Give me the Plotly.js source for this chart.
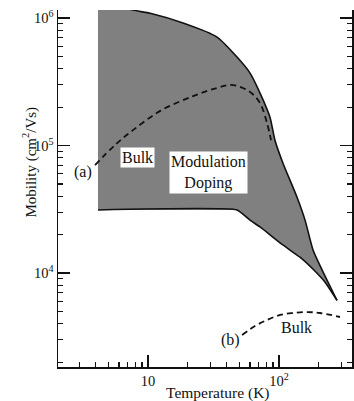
<!DOCTYPE html>
<html>
<head>
<meta charset="utf-8">
<script src="https://cdn.plot.ly/plotly-3.0.1.min.js"></script>
<style>html,body{margin:0;padding:0;background:#fff;}#chart{width:354px;height:401px;}</style>
</head>
<body>
<div id="chart"></div>
<script>
// Modulation-doping region: upper boundary (left to right) and lower boundary (left to right)
var upperT  = [4.15, 7.3, 10.4, 18.5, 33.6, 47.8, 60.1, 71.6, 85.3, 93.1, 107, 137, 158, 182, 213, 277];
var upperMu = [1.6e6, 1.17e6, 1.09e6, 9.14e5, 7.09e5, 4.94e5, 3.7e5, 2.58e5, 1.67e5, 1.10e5, 7.3e4, 3.95e4, 2.6e4, 1.51e4, 1.06e4, 6.1e3];
var lowerT  = [4.15, 47.8, 60.1, 71.6, 107, 144.5, 182, 224, 277];
var lowerMu = [3.12e4, 3.12e4, 2.6e4, 2.3e4, 1.66e4, 1.33e4, 1.07e4, 8.5e3, 6.1e3];
// Bulk curve (a)
var bulkAT  = [3.94, 5.6, 7.68, 12.4, 22.1, 33.6, 44.6, 60.1, 71.6, 81, 86.9];
var bulkAMu = [7.03e4, 1.01e5, 1.32e5, 1.87e5, 2.44e5, 2.83e5, 2.98e5, 2.63e5, 2.15e5, 1.5e5, 1.1e5];
// Bulk curve (b)
var bulkBT  = [52.3, 65.6, 81, 102, 128, 164, 206, 292];
var bulkBMu = [3.27e3, 3.84e3, 4.28e3, 4.69e3, 4.86e3, 4.94e3, 4.86e3, 4.52e3];
// Tick values and labels
var yTickVals = [1e4, 1e5, 1e6];
var yTickText = ['10<sup>4</sup>', '10<sup>5</sup>', '10<sup>6</sup>'];
var xTickVals = [10, 100];
var xTickText = ['10', '10<sup>2</sup>'];
var minorDigits = [2, 3, 4, 5, 6, 7, 8, 9];

function minorVals(decades) {
  var out = [];
  decades.forEach(function (d) { minorDigits.forEach(function (k) { out.push(k * d); }); });
  return out;
}

var polyT = upperT.concat(lowerT.slice().reverse());
var polyMu = upperMu.concat(lowerMu.slice().reverse());

var serif = 'Liberation Serif, Times New Roman, serif';

var traces = [
  {x: polyT, y: polyMu, mode: 'lines', fill: 'toself', fillcolor: '#808080',
   line: {width: 0, color: 'rgba(0,0,0,0)'}, hoverinfo: 'skip'},
  {x: upperT, y: upperMu, mode: 'lines', line: {color: '#111', width: 1.6, shape: 'spline', smoothing: 0.6}},
  {x: lowerT, y: lowerMu, mode: 'lines', line: {color: '#111', width: 1.6, shape: 'spline', smoothing: 0.4}},
  {x: bulkAT, y: bulkAMu, mode: 'lines', line: {color: '#111', width: 1.8, dash: '6px,4px', shape: 'spline'}},
  {x: bulkBT, y: bulkBMu, mode: 'lines', line: {color: '#111', width: 1.8, dash: '6px,4px', shape: 'spline'}}
];

var layout = {
  width: 354, height: 401,
  margin: {l: 58, r: 2, t: 10, b: 34},
  paper_bgcolor: '#fff', plot_bgcolor: '#fff',
  showlegend: false,
  font: {family: serif, color: '#111', size: 15},
  xaxis: {
    type: 'log', range: [0.313, 2.557],
    showgrid: false, zeroline: false,
    showline: true, linecolor: '#111', linewidth: 1.5, mirror: false,
    ticks: 'inside', ticklen: 12, tickwidth: 1.3, tickcolor: '#111',
    tickmode: 'array', tickvals: xTickVals, ticktext: xTickText,
    tickfont: {family: serif, size: 14.5, color: '#111'},
    minor: {ticks: 'inside', ticklen: 5, tickwidth: 1.2, tickcolor: '#111',
            tickmode: 'array', tickvals: minorVals([1, 10, 100]), showgrid: false}
  },
  yaxis: {
    type: 'log', range: [3.263, 6.063],
    showgrid: false, zeroline: false,
    showline: true, linecolor: '#111', linewidth: 1.5, mirror: 'ticks',
    ticks: 'inside', ticklen: 12, tickwidth: 1.3, tickcolor: '#111',
    tickmode: 'array', tickvals: yTickVals, ticktext: yTickText,
    tickfont: {family: serif, size: 14.5, color: '#111'},
    minor: {ticks: 'inside', ticklen: 5, tickwidth: 1.2, tickcolor: '#111',
            tickmode: 'array', tickvals: minorVals([1e3, 1e4, 1e5]), showgrid: false}
  },
  annotations: [
    {xref: 'paper', yref: 'paper', x: -0.136, y: 0.574, text: 'Mobility (cm<sup>2</sup>/Vs)',
     textangle: -90, showarrow: false, font: {family: serif, size: 15, color: '#111'}},
    {xref: 'paper', yref: 'paper', x: 0.541, y: -0.072, yanchor: 'middle', text: 'Temperature (K)',
     showarrow: false, font: {family: serif, size: 15.5, color: '#111'}},
    {x: 0.916, y: 4.91, text: 'Bulk', showarrow: false, bgcolor: '#fff',
     borderpad: 1, font: {family: serif, size: 16, color: '#111'}},
    {x: 1.458, y: 4.792, text: 'Modulation<br>Doping', showarrow: false, bgcolor: '#fff',
     borderpad: 1, font: {family: serif, size: 16, color: '#111'}},
    {x: 0.504, y: 4.792, text: '(a)', showarrow: false,
     font: {family: serif, size: 16, color: '#111'}},
    {x: 1.626, y: 3.475, text: '(b)', showarrow: false,
     font: {family: serif, size: 16, color: '#111'}},
    {x: 2.137, y: 3.576, text: 'Bulk', showarrow: false,
     font: {family: serif, size: 16, color: '#111'}}
  ]
};

Plotly.newPlot('chart', traces, layout, {displayModeBar: false, staticPlot: true});
</script>
</body>
</html>
